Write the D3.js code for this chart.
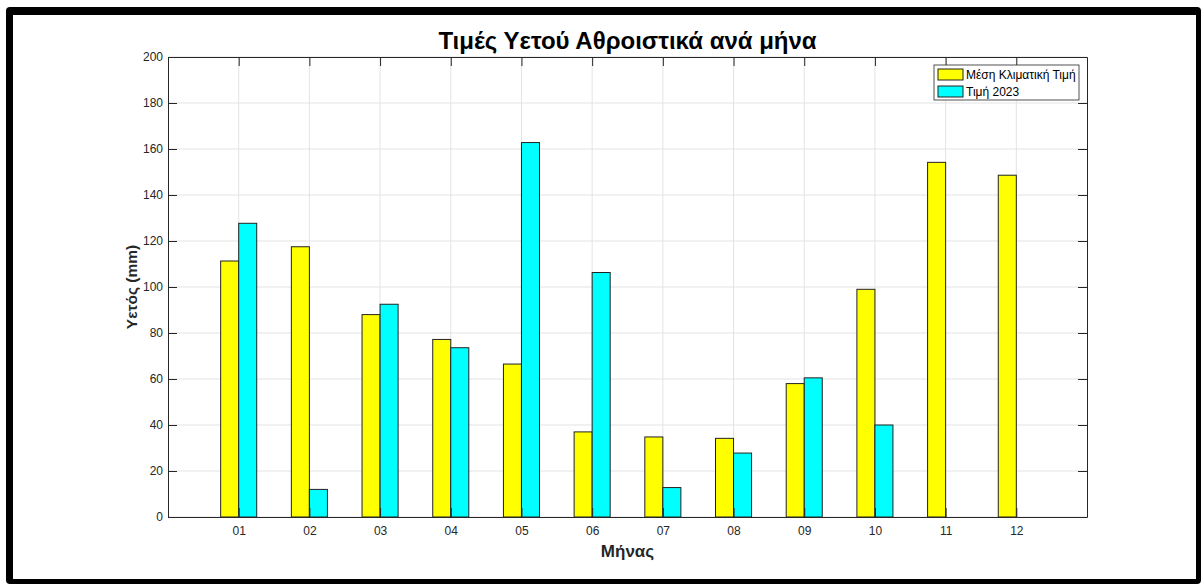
<!DOCTYPE html>
<html>
<head>
<meta charset="utf-8">
<script src="https://cdn.jsdelivr.net/npm/d3@7"></script>
<style>
  body { margin: 0; background: #fff; }
  svg { display: block; font-family: "Liberation Sans", Arial, sans-serif; }
</style>
</head>
<body>
<svg id="chart" width="1201" height="584"></svg>
<script>
// data
let months = ["01", "02", "03", "04", "05", "06", "07", "08", "09", "10", "11", "12"];
let climateMean = [111.3, 117.5, 88, 77.2, 66.5, 37, 34.8, 34.2, 58, 99, 154.2, 148.6];
let rain2023 = [127.7, 12, 92.5, 73.6, 162.8, 106.3, 12.8, 27.8, 60.5, 40, null, null];
let yTicks = [0, 20, 40, 60, 80, 100, 120, 140, 160, 180, 200];
let seriesNames = ["Μέση Κλιματική Τιμή", "Τιμή 2023"];
let seriesColors = ["#ffff00", "#00ffff"];

let svg = d3.select("#chart");

// outer black frame
svg.append("rect").attr("x", 6).attr("y", 7).attr("width", 1195).attr("height", 577)
    .attr("rx", 4).attr("fill", "#000");
svg.append("rect").attr("x", 13).attr("y", 15).attr("width", 1183).attr("height", 564)
    .attr("fill", "#fff");

let m = {left: 168, top: 57, right: 1087, bottom: 517};

let x = d3.scaleLinear().domain([0, 13]).range([m.left, m.right]);
let y = d3.scaleLinear().domain([0, 200]).range([m.bottom, m.top]);

let g = svg.append("g");

// grid
g.selectAll(".gx").data(months).enter().append("line")
    .attr("x1", (d, i) => x(i + 1)).attr("x2", (d, i) => x(i + 1))
    .attr("y1", m.top).attr("y2", m.bottom)
    .attr("stroke", "#e3e3e3").attr("stroke-width", 1);
g.selectAll(".gy").data(yTicks).enter().append("line")
    .attr("x1", m.left).attr("x2", m.right)
    .attr("y1", d => y(d)).attr("y2", d => y(d))
    .attr("stroke", "#e3e3e3").attr("stroke-width", 1);

// bars
let bw = 0.255;
let series = [climateMean, rain2023];
series.forEach((vals, s) => {
    let rows = vals.map((v, i) => ({v: v, i: i})).filter(d => d.v != null);
    g.selectAll(".bar" + s).data(rows).enter()
        .append("rect")
        .attr("x", d => x(d.i + 1 + (s === 0 ? -bw : 0)))
        .attr("y", d => y(d.v))
        .attr("width", x(bw) - x(0))
        .attr("height", d => y(0) - y(d.v))
        .attr("fill", seriesColors[s])
        .attr("stroke", "#222").attr("stroke-width", 1);
});

// axes box with ticks on all sides
let tickLen = 9;
let axisCol = "#262626";
let xAxB = d3.axisBottom(x).tickValues(d3.range(1, 13)).tickFormat(d => months[d - 1])
    .tickSizeInner(-tickLen).tickSizeOuter(0).tickPadding(9);
let xAxT = d3.axisTop(x).tickValues(d3.range(1, 13)).tickFormat("")
    .tickSizeInner(-tickLen).tickSizeOuter(0);
let yAxL = d3.axisLeft(y).tickValues(yTicks).tickSizeInner(-tickLen).tickSizeOuter(0).tickPadding(5);
let yAxR = d3.axisRight(y).tickValues(yTicks).tickFormat("").tickSizeInner(-tickLen).tickSizeOuter(0);

let axes = [
    svg.append("g").attr("transform", `translate(0,${m.bottom})`).call(xAxB),
    svg.append("g").attr("transform", `translate(0,${m.top})`).call(xAxT),
    svg.append("g").attr("transform", `translate(${m.left},0)`).call(yAxL),
    svg.append("g").attr("transform", `translate(${m.right},0)`).call(yAxR)
];
axes.forEach(a => {
    a.selectAll("path").attr("stroke", axisCol).attr("stroke-width", 1);
    a.selectAll("line").attr("stroke", axisCol).attr("stroke-width", 1);
    a.selectAll("text").attr("fill", axisCol).style("font-size", "12px")
        .style("font-family", "'Liberation Sans', Arial, sans-serif");
});
axes[0].selectAll("text").attr("dy", "0.71em");

// title and axis labels
svg.append("text").attr("x", (m.left + m.right) / 2).attr("y", 49)
    .attr("text-anchor", "middle").style("font-size", "24px").style("font-weight", "bold")
    .attr("fill", "#000").text("Τιμές Υετού Αθροιστικά ανά μήνα");
svg.append("text").attr("x", (m.left + m.right) / 2).attr("y", 557)
    .attr("text-anchor", "middle").style("font-size", "17px").style("font-weight", "bold")
    .attr("fill", "#262626").text("Μήνας");
svg.append("text").attr("transform", `translate(137,${(m.top + m.bottom) / 2}) rotate(-90)`)
    .attr("text-anchor", "middle").style("font-size", "15.5px").style("font-weight", "bold")
    .attr("fill", "#262626").text("Υετός (mm)");

// legend
let lg = svg.append("g").attr("transform", "translate(934,65)");
lg.append("rect").attr("width", 145).attr("height", 35)
    .attr("fill", "#fff").attr("stroke", "#262626").attr("stroke-width", 0.8);
seriesNames.forEach((name, i) => {
    lg.append("rect").attr("x", 4).attr("y", 4 + i * 17).attr("width", 25).attr("height", 11)
        .attr("fill", seriesColors[i]).attr("stroke", "#222").attr("stroke-width", 1);
    lg.append("text").attr("x", 32).attr("y", 14 + i * 17)
        .style("font-size", "12px").attr("fill", "#000").text(name);
});
</script>
</body>
</html>
